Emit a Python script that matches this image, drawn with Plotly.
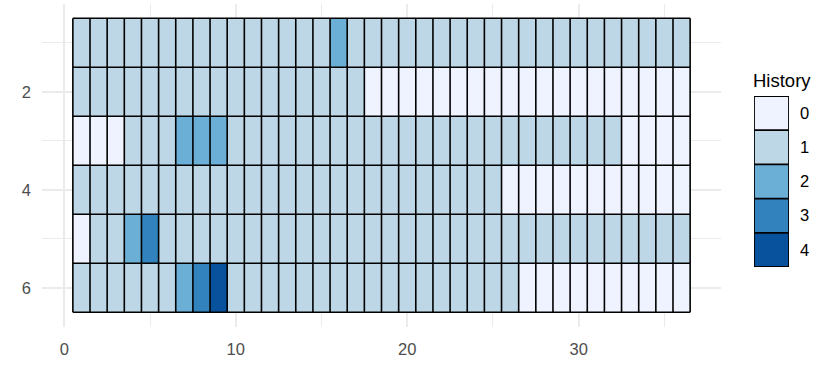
import plotly.graph_objects as go

# ---- data ----
columns = list(range(1, 37))
rows = [1, 2, 3, 4, 5, 6]
row1 = [1,1,1,1,1,1,1,1,1,1,1,1,1,1,1,2,1,1,1,1,1,1,1,1,1,1,1,1,1,1,1,1,1,1,1,1]
row2 = [1,1,1,1,1,1,1,1,1,1,1,1,1,1,1,1,1,0,0,0,0,0,0,0,0,0,0,0,0,0,0,0,0,0,0,0]
row3 = [0,0,0,1,1,1,2,2,2,1,1,1,1,1,1,1,1,1,1,1,1,1,1,1,1,1,1,1,1,1,1,1,0,0,0,0]
row4 = [1,1,1,1,1,1,1,1,1,1,1,1,1,1,1,1,1,1,1,1,1,1,1,1,1,0,0,0,0,0,0,0,0,0,0,0]
row5 = [0,1,1,2,3,1,1,1,1,1,1,1,1,1,1,1,1,1,1,1,1,1,1,1,1,1,1,1,1,1,1,1,1,1,1,1]
row6 = [1,1,1,1,1,1,2,3,4,1,1,1,1,1,1,1,1,1,1,1,1,1,1,1,1,1,0,0,0,0,0,0,0,0,0,0]
history_levels = [0, 1, 2, 3, 4]
history_labels = ["0", "1", "2", "3", "4"]
x_ticks = [0, 10, 20, 30]
x_minor = [5, 15, 25, 35]
y_ticks = [2, 4, 6]
y_minor = [1, 3, 5]
palette = ["#EFF3FF", "#BDD7E7", "#6BAED6", "#3182BD", "#08519C"]

z = [row1, row2, row3, row4, row5, row6]
W, H = 832, 377
FONT = "Liberation Sans, Arial, sans-serif"

colorscale = [[i / (len(palette) - 1), c] for i, c in enumerate(palette)]

fig = go.Figure()

# main tiles
fig.add_trace(go.Heatmap(
    z=z, x=columns, y=rows, colorscale=colorscale, zmin=0, zmax=4,
    showscale=False, hoverinfo="skip", xaxis="x", yaxis="y"))

# tile borders
bx, by = [], []
for c in range(len(columns) + 1):
    bx += [c + 0.5, c + 0.5, None]
    by += [0.5, len(rows) + 0.5, None]
for r in range(len(rows) + 1):
    bx += [0.5, len(columns) + 0.5, None]
    by += [r + 0.5, r + 0.5, None]
fig.add_trace(go.Scatter(x=bx, y=by, mode="lines", line=dict(color="black", width=1.6),
                         hoverinfo="skip", showlegend=False, xaxis="x", yaxis="y"))

# legend keys as small heatmap
fig.add_trace(go.Heatmap(
    z=[[v] for v in history_levels], x=[0], y=history_levels, colorscale=colorscale,
    zmin=0, zmax=4, showscale=False, hoverinfo="skip", xaxis="x2", yaxis="y2"))
lx, ly = [], []
for k in range(len(history_levels) + 1):
    lx += [-0.5, 0.5, None]
    ly += [k - 0.5, k - 0.5, None]
lx += [-0.5, -0.5, None, 0.5, 0.5, None]
ly += [-0.5, len(history_levels) - 0.5, None, -0.5, len(history_levels) - 0.5, None]
fig.add_trace(go.Scatter(x=lx, y=ly, mode="lines", line=dict(color="black", width=1.8),
                         hoverinfo="skip", showlegend=False, xaxis="x2", yaxis="y2"))

grid_major = "#EBEBEB"
tick_font = dict(family=FONT, size=16.5, color="#4D4D4D")

fig.update_layout(
    width=W, height=H, margin=dict(l=0, r=0, t=0, b=0),
    paper_bgcolor="white", plot_bgcolor="white", showlegend=False,
    xaxis=dict(domain=[42 / W, 721 / W], range=[-1.3, 38.3], tickvals=x_ticks,
               ticktext=[str(v) for v in x_ticks], showgrid=True, gridcolor=grid_major,
               gridwidth=1.6, zeroline=False, showline=False, ticks="",
               tickfont=tick_font, ticklabelstandoff=10, automargin=False,
               minor=dict(tickvals=x_minor, showgrid=True, gridcolor=grid_major, gridwidth=0.8),
               anchor="y", fixedrange=True),
    yaxis=dict(domain=[1 - 327 / H, 1 - 3.6 / H], range=[6.8, 0.2], tickvals=y_ticks,
               ticktext=[str(v) for v in y_ticks], showgrid=True, gridcolor=grid_major,
               gridwidth=1.6, zeroline=False, showline=False, ticks="",
               tickfont=tick_font, ticklabelstandoff=10, automargin=False,
               minor=dict(tickvals=y_minor, showgrid=True, gridcolor=grid_major, gridwidth=0.8),
               anchor="x", fixedrange=True),
    xaxis2=dict(domain=[754 / W, 789 / W], range=[-0.5, 0.5], visible=False,
                anchor="y2", fixedrange=True),
    yaxis2=dict(domain=[1 - 267 / H, 1 - 96 / H], range=[4.5, -0.5], tickvals=history_levels,
                ticktext=history_labels, side="right", anchor="x2", showgrid=False,
                zeroline=False, showline=False, ticks="", ticklabelstandoff=10,
                tickfont=dict(family=FONT, size=16.5, color="#000000"),
                automargin=False, fixedrange=True),
    annotations=[dict(text="History", x=751 / W, y=1 - 80 / H, xref="paper", yref="paper",
                      xanchor="left", yanchor="middle", showarrow=False,
                      font=dict(family=FONT, size=18.5, color="#000000"))],
)

fig.write_html("out.html", config={"displayModeBar": False})
